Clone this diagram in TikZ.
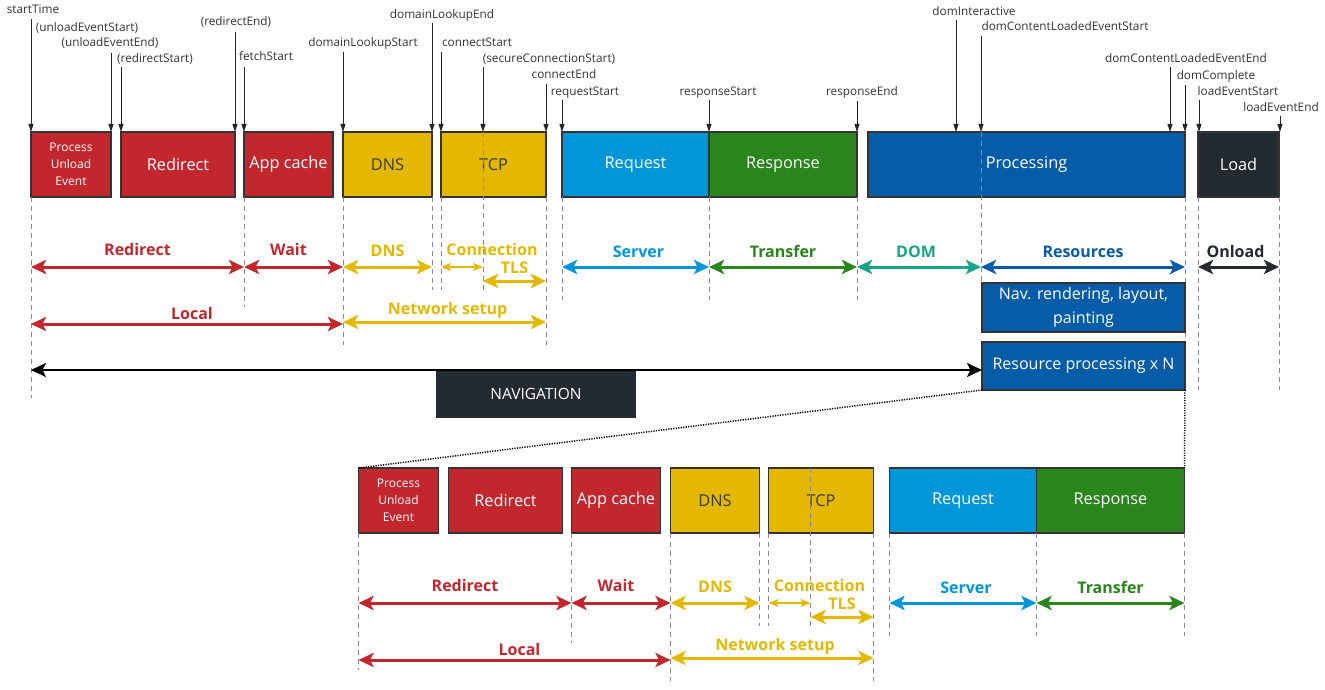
\documentclass[tikz,border=0pt]{standalone}
\usepackage{fontspec}
\setmainfont{Open Sans}
\usetikzlibrary{arrows.meta,calc}
\definecolor{cred}{HTML}{C1272D}
\definecolor{cyel}{HTML}{E5B800}
\definecolor{creq}{HTML}{0096D8}
\definecolor{cresp}{HTML}{2A851C}
\definecolor{cproc}{HTML}{075CA8}
\definecolor{cload}{HTML}{232A30}
\definecolor{cdom}{HTML}{17A589}
\definecolor{cdark}{HTML}{3A3A3A}
\definecolor{cbord}{HTML}{333333}
\definecolor{cguide}{HTML}{8A8A8A}
\definecolor{ctext}{HTML}{333333}
\tikzset{
  box/.style={draw=cbord, line width=1.5pt, anchor=north west, minimum height=65pt,
    inner sep=0pt, outer sep=0pt, font=\fontsize{16.3}{19}\selectfont, text=white, align=center},
  guide/.style={draw=cguide, line width=1pt, dash pattern=on 5pt off 4pt},
  mlab/.style={anchor=base, inner sep=0pt, font=\fontsize{11.8}{14}\selectfont, text=ctext},
  mk/.style={draw=black!85, line width=1pt, -{Triangle[length=8pt,width=5pt]}},
  bigtip/.style={Stealth[length=15pt,width=14pt,inset=3.5pt]},
  cat/.style={line width=3pt, {Stealth[length=15pt,width=14pt,inset=3.5pt]}-{Stealth[length=15pt,width=14pt,inset=3.5pt]}},
  catsmall/.style={line width=2pt, {Stealth[length=10pt,width=8pt,inset=2.5pt]}-{Stealth[length=10pt,width=8pt,inset=2.5pt]}},
  catlab/.style={font=\bfseries\fontsize{16}{19}\selectfont, anchor=base, inner sep=0pt},
  dots/.style={draw=black, line width=1.5pt, dash pattern=on 1.2pt off 1.3pt},
}
\newcommand\tlrow[1]{%
  \coordinate (r1) at (0,267);
  \coordinate (rT) at (0,281);
  \coordinate (rL) at (0,324);
  \coordinate (rN) at (0,322);
  \node[box,fill=cred,minimum width=80pt,font=\fontsize{12}{17}\selectfont] (pue) at (31,132) {Process\\Unload\\Event};
  \node[box,fill=cred,minimum width=114pt] (red) at (121,132) {Redirect};
  \node[box,fill=cred,minimum width=89pt] (app) at (244,132) {App cache};
  \node[box,fill=cyel,minimum width=89pt,text=cdark] (dns) at (343,132) {DNS};
  \node[box,fill=cyel,minimum width=105pt,text=cdark] (tcp) at (441,132) {TCP};
  \node[box,fill=creq,minimum width=147pt] (req) at (562,132) {Request};
  \node[box,fill=cresp,minimum width=148pt] (resp) at (709,132) {Response};
  \coordinate (sec) at (483,132);
  % guides
  \draw[guide] (pue.south west) -- ++(0,#1);
  \draw[guide] (app.south west) -- ++(0,110);
  \draw[guide] (dns.south west) -- ++(0,148);
  \draw[guide] (dns.south east) -- ++(0,93);
  \draw[guide] (tcp.south west) -- ++(0,93);
  \draw[guide] (sec) -- ++(0,158);
  \draw[guide] (tcp.south east) -- ++(0,148);
  \draw[guide] (req.south west) -- ++(0,103);
  \draw[guide] (req.south east) -- ++(0,103);
  \draw[guide] (resp.south east) -- ++(0,103);
  % category arrows
  \draw[cat,cred] (pue.south west |- r1) -- node[catlab,yshift=12pt]{Redirect} (app.south west |- r1);
  \draw[cat,cred] (app.south west |- r1) -- node[catlab,yshift=12pt,xshift=-5pt]{Wait} (dns.south west |- r1);
  \draw[cat,cyel] (dns.south west |- r1) -- node[catlab,yshift=11pt]{DNS} (dns.south east |- r1);
  \draw[catsmall,cyel] (tcp.south west |- r1) -- node[catlab,yshift=12pt,xshift=30pt]{Connection} (sec |- r1);
  \draw[cat,cyel] (sec |- rT) -- node[catlab,yshift=8pt]{TLS} (tcp.south east |- rT);
  \draw[cat,cred] (pue.south west |- rL) -- node[catlab,yshift=5pt,xshift=5pt]{Local} (dns.south west |- rL);
  \draw[cat,cyel] (dns.south west |- rN) -- node[catlab,yshift=8pt,xshift=3pt]{Network setup} (tcp.south east |- rN);
  \draw[cat,creq] (req.south west |- r1) -- node[catlab,yshift=10pt,xshift=3pt]{Server} (req.south east |- r1);
  \draw[cat,cresp] (resp.south west |- r1) -- node[catlab,yshift=10pt]{Transfer} (resp.south east |- r1);
}
\newcommand\tmk[6]{%
  \node[mlab] (l#1) at (#2,#3) {#6};
  \coordinate (c#1) at (#4,#5);
  \draw[mk] (c#1) -- (c#1 |- pue.north);
}
\begin{document}
\begin{tikzpicture}[x=1pt,y=-1pt]
\useasboundingbox (0,0) rectangle (1325,690);
% ---------- top timeline ----------
\tlrow{201}
\node[box,fill=cproc,minimum width=317pt] (proc) at (868,132) {Processing};
\node[box,fill=cload,minimum width=81pt] (load) at (1198,132) {Load};
\coordinate (dcl) at (981,132);
% markers
\tmk{st}{33}{14}{31}{19}{startTime}
\node[mlab] (lues) at (87,32) {(unloadEventStart)};
\tmk{uee}{110}{47}{111}{53}{(unloadEventEnd)}
\tmk{rs}{155}{63}{121}{67}{(redirectStart)}
\tmk{re}{236}{26}{235}{32}{(redirectEnd)}
\tmk{fs}{266}{61}{244}{67}{fetchStart}
\tmk{dls}{363}{47}{343}{52}{domainLookupStart}
\tmk{dle}{442}{19}{432}{23}{domainLookupEnd}
\tmk{cs}{477}{47}{441}{52}{connectStart}
\tmk{scs}{549}{63}{483}{67}{(secureConnectionStart)}
\tmk{ce}{564}{79}{546}{84}{connectEnd}
\tmk{rqs}{585}{96}{562}{100}{requestStart}
\tmk{rps}{718}{96}{709}{100}{responseStart}
\tmk{rpe}{862}{96}{857}{101}{responseEnd}
\tmk{di}{974}{16}{956}{20}{domInteractive}
\tmk{dcls}{1065}{31}{981}{36}{domContentLoadedEventStart}
\tmk{dcle}{1186}{63}{1170}{67}{domContentLoadedEventEnd}
\tmk{dc}{1216}{80}{1185}{85}{domComplete}
\tmk{les}{1238}{96}{1199}{100}{loadEventStart}
\tmk{lee}{1281}{112}{1280}{116}{loadEventEnd}
% guides (top only)
\draw[guide] (proc.south east) -- ++(0,193);
\draw[guide] (load.south west) -- ++(0,193);
\draw[guide] (load.south east) -- ++(0,193);
\draw[guide] (dcl) -- ++(0,151);
% top-only category arrows
\draw[cat,cdom] (resp.south east |- r1) -- node[catlab,yshift=10pt,xshift=-3pt]{DOM} (dcl |- r1);
\draw[cat,cproc] (dcl |- r1) -- node[catlab,yshift=10pt]{Resources} (proc.south east |- r1);
\draw[cat,cload] (load.south west |- r1) -- node[catlab,yshift=10pt,xshift=-3pt]{Onload} (load.south east |- r1);
% resource boxes
\node[box,fill=cproc,minimum width=203pt,minimum height=49pt,font=\fontsize{16}{24}\selectfont] (nav) at (982,283) {Nav. rendering, layout,\\painting};
\node[box,fill=cproc,minimum width=203pt,minimum height=48pt,font=\fontsize{16}{19}\selectfont] (res) at (982,342) {Resource processing x N};
% navigation
\node[box,fill=cload,draw=none,minimum width=200pt,minimum height=48pt,font=\fontsize{15.5}{18}\selectfont] (navl) at (436,370) {NAVIGATION};
\coordinate (rNav) at (0,370);
\draw[line width=2.5pt,black,{Stealth[length=15pt,width=14pt,inset=3.5pt]}-{Stealth[length=15pt,width=14pt,inset=3.5pt]}] (pue.south west |- rNav) -- (res.west |- rNav);
% ---------- bottom timeline ----------
\begin{scope}[shift={(327.5,336)}, name prefix=b-]
\tlrow{137}
\end{scope}
% zoom connectors
\draw[dots] (res.south west) -- (b-pue.north west);
\draw[dots] (res.south east) -- (b-resp.north east);
\end{tikzpicture}
\end{document}
